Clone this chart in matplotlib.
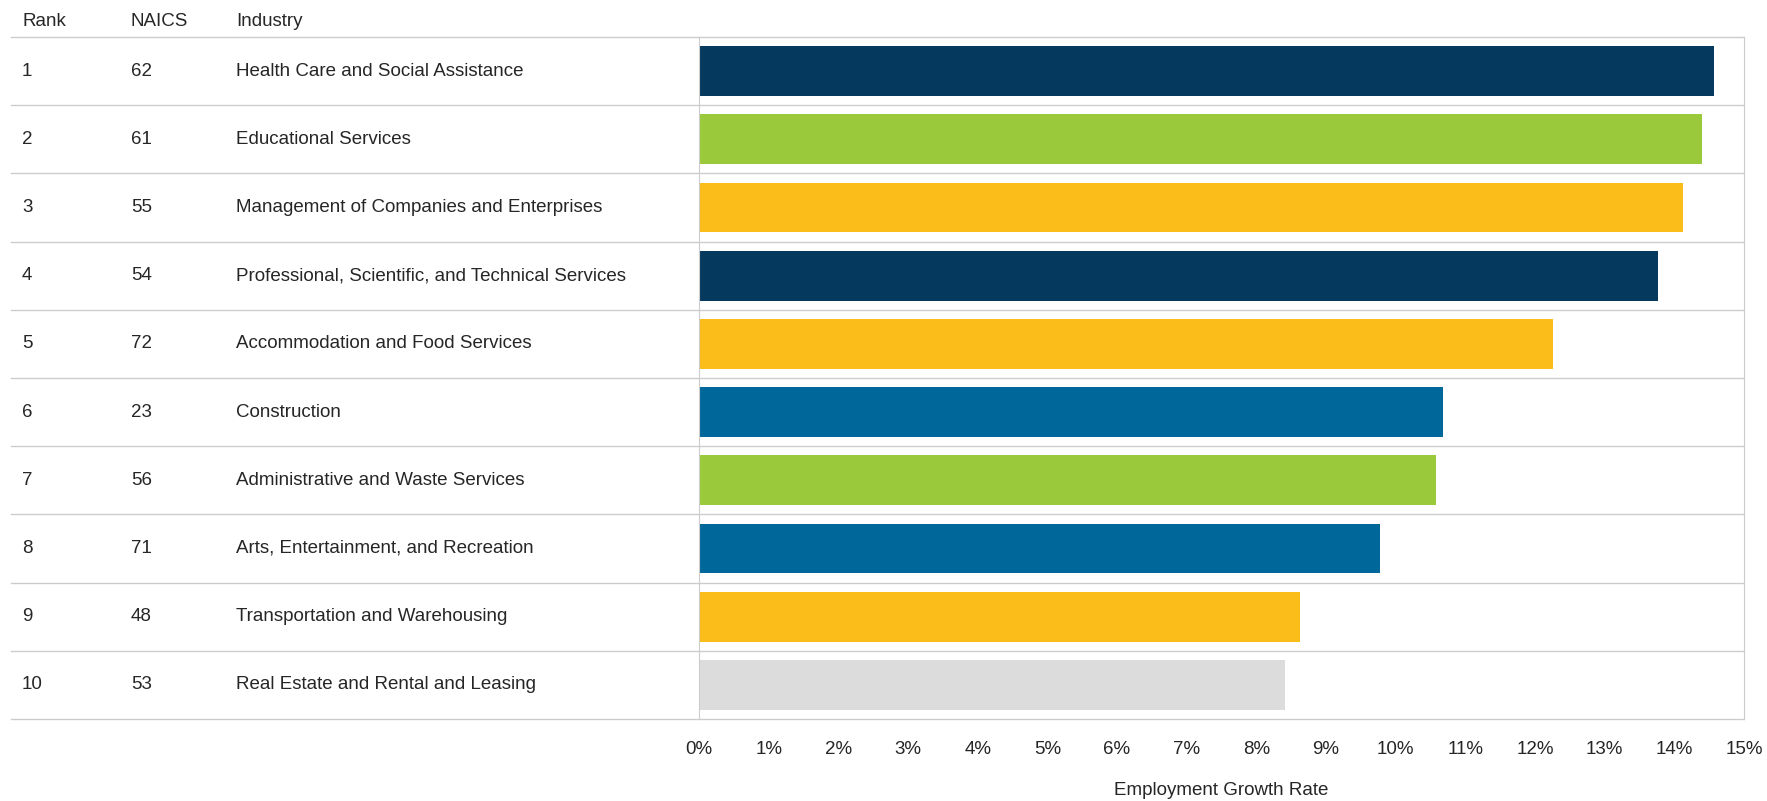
import matplotlib.pyplot as plt
from matplotlib.transforms import blended_transform_factory

ranks = [1, 2, 3, 4, 5, 6, 7, 8, 9, 10]
naics = [62, 61, 55, 54, 72, 23, 56, 71, 48, 53]
industries = [
    "Health Care and Social Assistance",
    "Educational Services",
    "Management of Companies and Enterprises",
    "Professional, Scientific, and Technical Services",
    "Accommodation and Food Services",
    "Construction",
    "Administrative and Waste Services",
    "Arts, Entertainment, and Recreation",
    "Transportation and Warehousing",
    "Real Estate and Rental and Leasing",
]
growth = [14.57, 14.40, 14.13, 13.77, 12.26, 10.68, 10.58, 9.77, 8.63, 8.41]
bar_colors = ["#053a5e", "#9aca3c", "#fbbd1a", "#053a5e", "#fbbd1a",
              "#00679b", "#9aca3c", "#00679b", "#fbbd1a", "#dcdcdc"]
tick_vals = list(range(16))

plt.rcParams['font.family'] = ['Liberation Sans', 'DejaVu Sans']
text_col = "#262626"
line_col = "#cccccc"
fs = 13.5

fig = plt.figure(figsize=(17.67, 8.01), dpi=100)
ax = fig.add_axes([0.3956, 0.1024, 0.5914, 0.8514])

ax.barh(ranks, growth, height=0.73, color=bar_colors)
ax.set_ylim(10.5, 0.5)
ax.set_xlim(0, 15)

ax.set_xticks(tick_vals)
ax.set_xticklabels([f"{v}%" for v in tick_vals], fontsize=fs, color=text_col)
ax.tick_params(axis='x', length=0, pad=16)
ax.set_yticks([])
ax.set_xlabel("Employment Growth Rate", fontsize=fs, color=text_col, labelpad=17)

for s in ['top', 'bottom']:
    ax.spines[s].set_visible(False)
for s in ['left', 'right']:
    ax.spines[s].set_color(line_col)

# row separator lines extend across the table columns
x0 = (11 - 699) / 1045
for y in [r + 0.5 for r in [0] + ranks]:
    ax.axhline(y, xmin=x0, xmax=1, color=line_col, lw=1, clip_on=False)

tr = blended_transform_factory(fig.transFigure, ax.transData)
for r, n, name in zip(ranks, naics, industries):
    ax.text(0.0125, r, str(r), transform=tr, va='center', fontsize=fs, color=text_col)
    ax.text(0.074, r, str(n), transform=tr, va='center', fontsize=fs, color=text_col)
    ax.text(0.1336, r, name, transform=tr, va='center', fontsize=fs, color=text_col)

for x, h in zip([0.0125, 0.074, 0.1336], ["Rank", "NAICS", "Industry"]):
    fig.text(x, 0.973, h, va='center', fontsize=fs, color=text_col)

fig.savefig("out.png", dpi=100)
